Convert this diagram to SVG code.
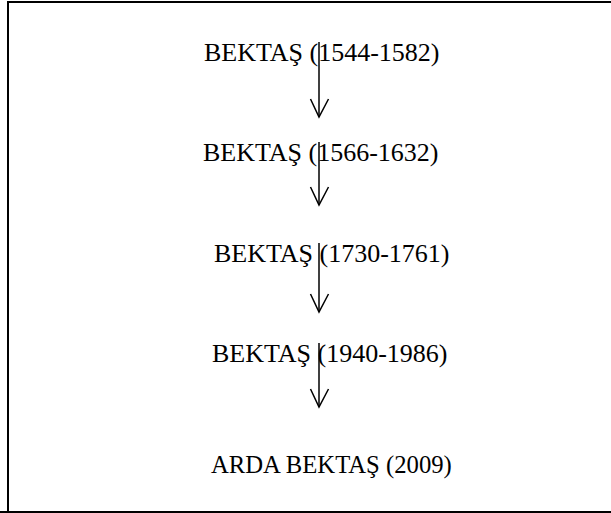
<svg xmlns="http://www.w3.org/2000/svg" width="611" height="513" viewBox="0 0 611 513">
  <style>
    .lbl { font-family: "Liberation Serif", "Times New Roman", serif; font-size: 26px; fill: #000; }
    .edge { stroke: #000; stroke-width: 1.5; fill: none; }
  </style>
  <rect width="611" height="513" fill="#fff"/>
  <!-- frame -->
  <path d="M8 513 V2 H611" fill="none" stroke="#000" stroke-width="2"/>
  <path d="M0 512 H611" fill="none" stroke="#000" stroke-width="2"/>

  <g id="n1"><text class="lbl" x="204" y="61">BEKTAŞ (1544-1582)</text></g>
  <g id="n2"><text class="lbl" x="203" y="161">BEKTAŞ (1566-1632)</text></g>
  <g id="n3"><text class="lbl" x="214" y="262">BEKTAŞ (1730-1761)</text></g>
  <g id="n4"><text class="lbl" x="212" y="362">BEKTAŞ (1940-1986)</text></g>
  <g id="n5"><text class="lbl" x="211" y="473" style="font-size:24.7px">ARDA BEKTAŞ (2009)</text></g>

  <g id="connectors">
    <path class="edge" d="M319 42 V117"/>
    <path class="edge" d="M310.5 99 L319 117 L328.5 99"/>
    <path class="edge" d="M319 142 V205"/>
    <path class="edge" d="M310.5 187 L319 205 L328.5 187"/>
    <path class="edge" d="M319 243 V312"/>
    <path class="edge" d="M310.5 294 L319 312 L328.5 294"/>
    <path class="edge" d="M319 343 V407"/>
    <path class="edge" d="M310.5 389 L319 407 L328.5 389"/>
  </g>
</svg>
